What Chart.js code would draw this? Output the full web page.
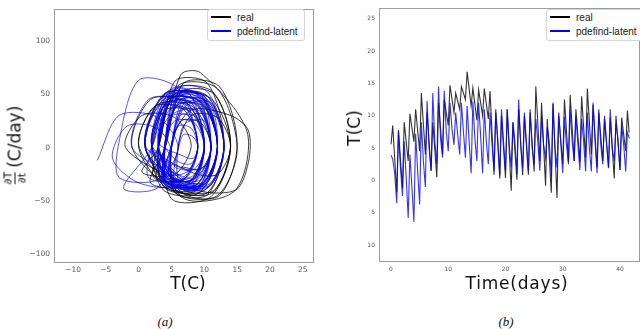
<!DOCTYPE html>
<html><head><meta charset="utf-8">
<script src="https://cdn.jsdelivr.net/npm/chart.js@4.4.1/dist/chart.umd.min.js"></script>
<style>
html,body{margin:0;padding:0;background:#fff;}
body{width:640px;height:329px;position:relative;overflow:hidden;font-family:"DejaVu Sans",sans-serif;}
.box{position:absolute;top:0;width:320px;height:290px;}
.legend{position:absolute;background:#fff;border:1px solid #d4d4d4;border-radius:3px;font-family:"Liberation Sans",Arial,sans-serif;font-size:10px;color:#222;padding:0 6px 2px 3px;}
.legend .row{display:flex;align-items:center;height:14px;white-space:nowrap;}
.legend .sw{width:20px;height:2px;margin-right:6px;}
.t{position:absolute;white-space:nowrap;color:#111;font-family:"DejaVu Sans",sans-serif;font-size:17px;transform:translate(-50%,-50%);}
.rot{transform:translate(-50%,-50%) rotate(-90deg);}
.frac{display:inline-flex;flex-direction:column;align-items:center;font-size:11px;line-height:11px;vertical-align:middle;margin-right:4px;}
.frac .bar{width:100%;border-top:1px solid #111;margin:1px 0;}
.cap{position:absolute;font-family:"Liberation Serif",serif;font-style:italic;font-size:13px;color:#111;transform:translate(-50%,-50%);}
</style></head>
<body>
<div class="box" style="left:0"><canvas id="c1"></canvas></div>
<div class="box" style="left:320px"><canvas id="c2"></canvas></div>
<div class="legend" id="lg1" style="left:207px;top:9px"></div>
<div class="legend" id="lg2" style="left:546px;top:9px"></div>
<div class="t rot" style="left:15px;top:145px"><span class="frac"><span>∂T</span><span class="bar"></span><span>∂t</span></span>(C/day)</div>
<div class="t" style="left:188px;top:283px">T(C)</div>
<div class="t rot" style="left:354px;top:128px">T(C)</div>
<div class="t" style="left:517px;top:283px;letter-spacing:0.8px">Time(days)</div>
<div class="cap" style="left:165px;top:322px">(a)</div>
<div class="cap" style="left:506px;top:322px">(b)</div>
<script>
// ---------- Panel (a): phase portrait, T vs dT/dt ----------
const phaseXTicks = [-10,-5,0,5,10,15,20,25];
const phaseYTicks = [-100,-50,0,50,100];
const phaseRealT = [
2,4.5,9.5,12,9.5,4.5,
1,4,10,13,10,4,
3,5.8,11.3,14,11.3,5.8,
0,2.8,8.3,11,8.3,2.8,
4,6.8,12.3,15,12.3,6.8,
2,4,8,10,8,4,
4,6.4,9.4,16.5,14.7,7,
1,3.8,9.3,12,9.3,3.8,
3,5.5,10.5,13,10.5,5.5,
-1,1.8,7.3,10,7.3,1.8,
4,6.5,11.5,14,11.5,6.5,
6,8,12,14,12,8,
2,4.3,8.8,11,8.8,4.3,
0,2.3,6.8,9,6.8,2.3,
3,6,12,15,12,6,
5,8,14,16.7,16.7,14.7,8,
1,3.8,9.3,12,9.3,3.8,
2,5,11,14,11,5,
4,6,10,12,10,6,
-2,0.5,5.5,8,5.5,0.5,
3,5.5,10.5,13,10.5,5.5,
5,6.5,9.5,11,9.5,6.5];
const phaseRealDT = [
0,45,43,2,-35,-33,
3,50,48,0,-40,-38,
-2,55,52,4,-42,-40,
2,40,38,-1,-30,-28,
0,60,57,3,-45,-43,
1,35,33,0,-30,-28,
5,68,70,15,-40,-48,
0,45,43,2,-38,-36,
2,50,48,-1,-42,-40,
0,45,42,3,-35,-33,
-1,52,50,2,-40,-38,
0,30,28,1,-25,-23,
2,42,40,0,-40,-38,
0,38,36,2,-30,-28,
1,58,55,-2,-45,-43,
3,35,30,16,-14,-40,-38,
-1,50,48,3,-42,-40,
0,48,46,0,-46,-48,
2,40,38,1,-32,-30,
0,30,28,2,-25,-23,
0,62,60,3,-44,-42,
1,25,23,0,-20,-18];
const phasePredT = [
-6.3,-3,3,6,3,-3,
-3,0,6,9,6,0,
-4,-1.8,2.8,5,2.8,-2.3,
2,4.3,8.8,11,8.8,4.3,
3,5.3,9.8,12,9.8,5.3,
1,3.3,7.8,10,7.8,3.3,
4,6.3,10.8,13,10.8,6.3,
2,4.3,8.8,11,8.8,4.3,
3,4.8,8.3,10,8.3,4.8,
5,6.8,10.3,12,10.3,6.8,
2,3.8,7.3,9,7.3,3.8,
4,6,10,12,10,6,
3,5,9,11,9,5,
1,3.8,9.3,12,9.3,3.8,
5,6.5,9.5,11,9.5,6.5,
3,5.5,10.5,13,10.5,5.5,
2,4,8,10,8,4,
4,5.8,9.3,11,9.3,5.8,
3,5.3,9.8,12,9.8,5.3,
5,6.3,8.8,10,8.8,6.3,
-1,1.5,6.5,9,6.5,1.5,
2,4.5,9.5,12,9.5,4.5,
4,6.3,10.8,13,10.8,6.3,
3,4.8,8.3,10,8.3,4.8,
5,6,8,9,8,6,
4,5.5,8.5,10,8.5,5.5,
6,6.8,8.3,9,8.3,6.8,
3,4.5,9,11,9,4,
4,5,8.5,10,8.5,5,
2,5,10,12,9,4,
5,7,11,12,10.5,6.5,
3,4.5,7.5,9,7.5,4.5,
4,5.5,9.5,11,9.5,5.5,
6,7,10,11,10,7,
1,3.5,8.5,11,8,3.5,
5,7,11,13,11,7,
3,5,8,10,8,5];
const phasePredDT = [
-12,30,28,0,-30,-28,
5,63,55,0,-35,-33,
-10,20,18,-5,-38,-38,
0,45,43,2,-35,-33,
2,50,48,0,-38,-36,
0,40,38,-1,-32,-30,
1,48,46,2,-36,-34,
-1,52,50,1,-35,-33,
0,42,40,2,-30,-28,
2,45,43,0,-33,-31,
1,38,36,0,-28,-26,
0,50,48,2,-37,-35,
-1,46,44,1,-34,-32,
2,48,46,0,-36,-34,
0,35,33,2,-30,-28,
1,55,52,-1,-38,-36,
0,44,42,2,-33,-31,
2,40,38,0,-35,-33,
0,47,45,1,-36,-34,
1,30,28,0,-28,-26,
0,45,43,2,-30,-28,
1,50,48,0,-35,-33,
0,44,42,2,-34,-32,
2,36,34,0,-30,-28,
0,20,18,0,-15,-13,
2,25,23,0,-20,-18,
-2,12,10,0,-10,-8,
5,40,45,0,-30,-35,
-3,30,35,5,-25,-30,
0,55,45,-3,-38,-32,
3,42,38,0,-32,-35,
0,28,30,2,-22,-25,
1,48,50,2,-36,-34,
0,22,25,0,-18,-20,
2,46,44,-2,-34,-30,
0,38,42,3,-35,-32,
-2,52,48,0,-38,-36];

// ---------- Panel (b): time series ----------
const timeXTicks = [0,10,20,30,40];
const timeYTicks = [-10,-5,0,5,10,15,20,25];
const realTime = [0,0.3,1,1.3,2,2.3,3,3.3,4,4.3,5,5.3,6,6.3,7,7.3,8,8.3,9,9.3,10,10.3,11,11.3,12,12.3,13,13.3,14,14.3,15,15.3,16,16.3,17,17.3,18,18.3,19,19.3,20,20.3,21,21.3,22,22.3,23,23.3,24,24.3,25,25.3,26,26.3,27,27.3,28,28.3,29,29.3,30,30.3,31,31.3,32,32.3,33,33.3,34,34.3,35,35.3,36,36.3,37,37.3,38,38.3,39,39.3,40,40.3,41,41.3,41.6];
const realTemp = [5.6,8.5, -1.8,7.8, -1.2,9.0, 3.0,10.3, 6.0,11.0, 4.5,13.5, 4.0,10.5, 1.5,9.0, 0.5,12.0, 4.0,12.5,
8.5,14.7, 10.5,13.5, 11.0,14.5, 12.5,16.8, 11.5,14.3, 9.3,14.0, 10.0,14.2, 9.5,13.8, 0.9,11.0, 0.3,10.0,
0.4,11.0, -1.6,9.0, 0.1,11.0, 0.8,10.0, 0.9,10.5, 1.4,14.5, 3.0,12.0, -0.8,9.5, -1.9,12.0, -2.7,10.0,
2.5,12.5, 2.9,13.2, 3.0,11.0, 2.9,13.0, 3.5,14.2, 4.0,11.7, 2.0,10.5, 3.0,9.5, 2.0,9.7, 0.3,10.0,
1.6,9.7, 4.5,10.8, 7.4];
const predTime = [0,0.3,0.65,1,1.3,1.65,2,2.3,2.65,3,3.3,3.65,4,4.3,4.65,5,5.3,5.65,6,6.3,6.65,7,7.3,7.65,8,8.3,8.65,9,9.3,9.65,
10,10.3,10.65,11,11.3,11.65,12,12.3,12.65,13,13.3,13.65,14,14.3,14.65,15,15.3,15.65,16,16.3,16.65,17,17.3,17.65,18,18.3,18.65,19,19.3,19.65,
20,20.3,20.65,21,21.3,21.65,22,22.3,22.65,23,23.3,23.65,24,24.3,24.65,25,25.3,25.65,26,26.3,26.65,27,27.3,27.65,28,28.3,28.65,29,29.3,29.65,
30,30.3,30.65,31,31.3,31.65,32,32.3,32.65,33,33.3,33.65,34,34.3,34.65,35,35.3,35.65,36,36.3,36.65,37,37.3,37.65,38,38.3,38.65,39,39.3,39.65,
40,40.3,40.65,41,41.3,41.65];
const predTemp = [3.9,3.3,1.0, -3.5,7.6,2.0, -2.4,6.0,0.5, -5.8,4.0,-1.0, -6.4,7.2,1.5, -3.7,9.0,3.0, -1.0,12.3,5.0, 1.5,13.5,6.0, 2.5,14.5,6.5, 3.5,13.8,7.5,
4.5,12.0,8.0, 5.5,10.5,7.0, 4.0,12.0,7.5, 3.5,11.5,6.0, 1.1,12.2,6.5, 3.0,12.0,7.0, 1.1,11.0,6.0, 2.5,10.5,5.5, 1.5,10.5,6.5, 0.8,11.0,6.0,
1.5,11.0,5.5, 2.0,9.0,6.0, 1.0,12.5,5.5, 2.0,10.5,6.0, 1.5,11.0,5.0, 2.5,9.5,6.0, 1.5,10.0,5.5, 3.5,8.2,6.0, 0.6,11.8,5.0, 2.0,10.5,6.0,
1.1,9.8,5.5, 2.5,11.0,6.0, 3.0,10.0,5.5, 1.6,9.5,6.0, 1.4,10.5,5.0, 1.4,12.0,6.0, 1.1,11.0,5.5, 2.5,10.0,6.0, 1.9,11.0,5.0, 3.0,8.8,6.5,
1.6,8.5,5.5, 1.4,7.4,6.5];

const seriesLabels = ['real','pdefind-latent'];
const seriesColors = ['#000000','#0000ff'];

// ---------- helpers ----------
Chart.defaults.font.family = "'DejaVu Sans', sans-serif";
const pts = (xs, ys) => xs.map((x, i) => ({x: x, y: ys[i]}));
const signed = v => (v < 0 ? '\u2212' + Math.abs(v) : String(v));
const framePlugin = {id: 'frame', afterDraw(chart) {
  const a = chart.chartArea, c = chart.ctx;
  c.save(); c.strokeStyle = '#9c9c9c'; c.lineWidth = 1;
  c.strokeRect(Math.round(a.left) + 0.5, Math.round(a.top) + 0.5, Math.round(a.right - a.left) - 1, Math.round(a.bottom - a.top) - 1);
  c.restore();
}};
function axis(min, max, tickVals, cb, size, fit) {
  return {
    type: 'linear', min: min, max: max,
    grid: {display: false, drawTicks: false}, border: {display: false},
    ticks: {autoSkip: false, maxRotation: 0, padding: 4, color: '#555', font: {size: size}, callback: cb},
    afterBuildTicks: s => { s.ticks = tickVals.map(v => ({value: v})); },
    afterFit: fit
  };
}
function ds(i, data, width, alpha, tension, order) {
  const col = i === 0 ? 'rgba(0,0,0,' + alpha + ')' : 'rgba(0,0,255,' + alpha + ')';
  return {label: seriesLabels[i], data: data, showLine: true, borderColor: col, backgroundColor: col,
    borderWidth: width, pointRadius: 0, tension: tension, order: order, fill: false};
}
const common = {responsive: true, maintainAspectRatio: false, animation: false,
  plugins: {legend: {display: false}, tooltip: {enabled: false}}};

new Chart(document.getElementById('c1'), {
  type: 'scatter',
  data: {datasets: [
    ds(0, pts(phaseRealT, phaseRealDT), 0.9, 0.85, 0.3, 1),
    ds(1, pts(phasePredT, phasePredDT), 0.9, 0.75, 0.3, 0)
  ]},
  options: Object.assign({}, common, {
    layout: {padding: {left: 0, right: 6, top: 3, bottom: 0}},
    scales: {
      x: axis(-12.9, 26.7, phaseXTicks, signed, 7.5, s => { s.height = 28; }),
      y: axis(-107, 130, phaseYTicks, signed, 7.5, s => { s.width = 54; })
    }
  }),
  plugins: [framePlugin]
});

new Chart(document.getElementById('c2'), {
  type: 'scatter',
  data: {datasets: [
    ds(0, pts(realTime, realTemp), 1.1, 0.8, 0, 1),
    ds(1, pts(predTime, predTemp), 1.1, 0.8, 0, 0)
  ]},
  options: Object.assign({}, common, {
    layout: {padding: {left: 0, right: 0, top: 3, bottom: 0}},
    scales: {
      x: axis(-2.1, 43.5, timeXTicks, v => String(v), 6, s => { s.height = 28; }),
      y: axis(-12.6, 26.7, timeYTicks, v => String(Math.abs(v)), 6, s => { s.width = 59; })
    }
  }),
  plugins: [framePlugin]
});

// legends (text from the series labels)
['lg1', 'lg2'].forEach(id => {
  const el = document.getElementById(id);
  seriesLabels.forEach((lab, i) => {
    const row = document.createElement('div'); row.className = 'row';
    const sw = document.createElement('span'); sw.className = 'sw'; sw.style.background = seriesColors[i];
    const tx = document.createElement('span'); tx.textContent = lab;
    row.appendChild(sw); row.appendChild(tx); el.appendChild(row);
  });
});
</script>
</body></html>
